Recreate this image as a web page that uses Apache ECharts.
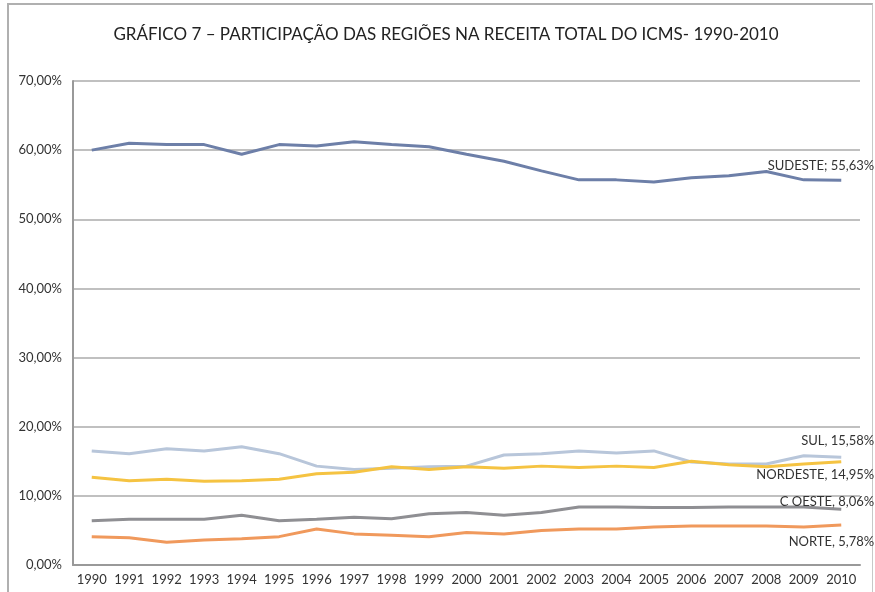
<!DOCTYPE html>
<html><head><meta charset="utf-8">
<script src="https://cdn.jsdelivr.net/npm/echarts@6/dist/echarts.min.js"></script>
<style>
html,body{margin:0;padding:0;background:#fff;}
#frame{position:absolute;left:7px;top:3px;width:866px;height:600px;border-left:2px solid #b0b0b0;border-top:2px solid #b0b0b0;border-right:1px solid #c8c8c8;box-sizing:border-box;}
#c{position:absolute;left:0;top:0;width:875px;height:592px;}
</style></head>
<body>
<div id="frame"></div>
<div id="c"></div>
<script>
const years = ['1990','1991','1992','1993','1994','1995','1996','1997','1998','1999','2000','2001','2002','2003','2004','2005','2006','2007','2008','2009','2010'];
const sudeste  = [60.0,61.0,60.8,60.8,59.4,60.8,60.6,61.2,60.8,60.5,59.4,58.4,57.0,55.7,55.7,55.4,56.0,56.3,56.9,55.7,55.63];
const sul      = [16.5,16.1,16.8,16.5,17.1,16.1,14.3,13.8,14.0,14.2,14.3,15.9,16.1,16.5,16.2,16.5,14.9,14.6,14.6,15.8,15.58];
const nordeste = [12.7,12.2,12.4,12.1,12.2,12.4,13.2,13.4,14.2,13.8,14.2,14.0,14.3,14.1,14.3,14.1,15.0,14.5,14.2,14.6,14.95];
const coeste   = [6.4,6.6,6.6,6.6,7.2,6.4,6.6,6.9,6.7,7.4,7.6,7.2,7.6,8.4,8.4,8.3,8.3,8.4,8.4,8.4,8.06];
const norte    = [4.1,3.95,3.3,3.6,3.8,4.1,5.2,4.5,4.3,4.1,4.7,4.5,5.0,5.2,5.2,5.5,5.65,5.65,5.65,5.5,5.78];
const yTicks = [0,10,20,30,40,50,60,70];

const FONT = 'Lato';
function fmt(v){ return v.toFixed(2).replace('.', ',') + '%'; }

function mk(name, data, color, sep, dy){
  const last = data.length - 1;
  return {
    name: name, type: 'line', data: data,
    symbol: 'circle', symbolSize: 0, showSymbol: true, smooth: false,
    lineStyle: {color: color, width: 3},
    itemStyle: {color: color},
    label: {
      show: true, position: 'left', distance: 0,
      formatter: function(p){ return p.dataIndex === last ? name + sep + ' ' + fmt(data[last]) : ''; },
      color: '#333', fontFamily: FONT, fontSize: 13
    },
    labelLayout: {dx: 33, dy: dy, hideOverlap: false},
    animation: false
  };
}

const chart = echarts.init(document.getElementById('c'), null, {renderer: 'canvas'});
chart.setOption({
  animation: false,
  title: {
    text: 'GRÁFICO 7 – PARTICIPAÇÃO DAS REGIÕES NA RECEITA TOTAL DO ICMS- 1990-2010',
    left: 441, top: 21, textAlign: 'center',
    textStyle: {fontFamily: FONT, fontSize: 17, fontWeight: 'normal', color: '#222'}
  },
  grid: {left: 73, right: 15, top: 81, bottom: 27, containLabel: false},
  xAxis: {
    type: 'category', data: years, boundaryGap: true,
    axisLine: {lineStyle: {color: '#999', width: 2}},
    axisTick: {show: false},
    axisLabel: {color: '#333', fontFamily: FONT, fontSize: 13, margin: 8, interval: 0}
  },
  yAxis: {
    type: 'value', min: 0, max: 70, interval: 10,
    axisLine: {show: true, lineStyle: {color: '#999', width: 2}},
    axisTick: {show: false},
    splitLine: {lineStyle: {color: '#c0c0c0', width: 2}},
    axisLabel: {color: '#333', fontFamily: FONT, fontSize: 13, margin: 11,
      formatter: function(v){ return v.toFixed(2).replace('.', ',') + '%'; }}
  },
  series: [
    mk('SUDESTE', sudeste, '#6d7fa8', ';', -15),
    mk('SUL', sul, '#b8c6da', ',', -16),
    mk('NORDESTE', nordeste, '#f5c342', ',', 13),
    mk('C OESTE', coeste, '#8f8f93', ',', -7),
    mk('NORTE', norte, '#f0995c', ',', 17)
  ]
});
</script>
</body></html>
